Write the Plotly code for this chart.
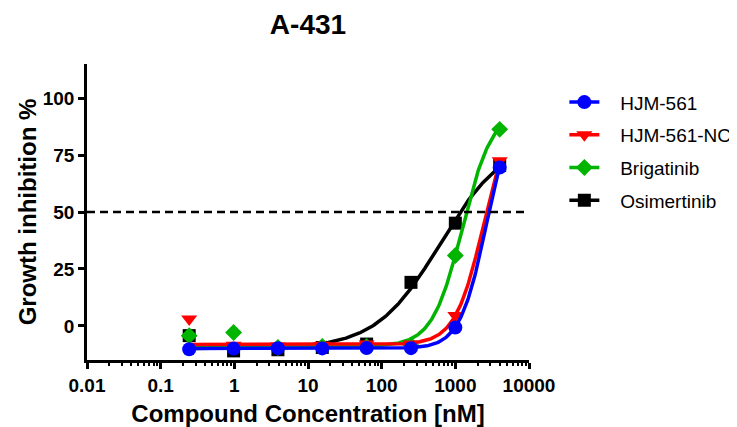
import numpy as np
import plotly.graph_objects as go

# ---- data ----
conc_nM = [0.244, 0.977, 3.906, 15.625, 62.5, 250, 1000, 4000]
series_names = ["HJM-561", "HJM-561-NC", "Brigatinib", "Osimertinib"]
hjm561 = [-10.3, -10.0, -9.8, -9.9, -9.7, -9.8, -0.7, 69.5]
hjm561_nc = [3.0, -8.5, -8.8, -8.5, -8.0, -8.0, 4.5, 72.5]
brigatinib = [-4.3, -2.9, -9.5, -9.0, -9.0, -8.5, 30.9, 86.3]
osimertinib = [-4.3, -11.0, -10.5, -9.5, -8.0, 19.1, 45.1, 70.5]

# 4-parameter logistic fit parameters (as drawn in the reference)
fit_bottom = [-10.0, -8.2, -9.0, -10.0]
fit_top = [100.0, 100.0, 95.0, 82.0]
fit_ec50 = [2660.0, 2470.0, 1247.0, 620.0]
fit_hill = [2.41, 2.23, 2.13, 1.0]

x_ticks = [0.01, 0.1, 1, 10, 100, 1000, 10000]
x_tick_text = ["0.01", "0.1", "1", "10", "100", "1000", "10000"]
y_ticks = [0, 25, 50, 75, 100]
threshold = 50

values = [hjm561, hjm561_nc, brigatinib, osimertinib]
colors = ["#0000FF", "#FF0000", "#00B400", "#000000"]
symbols = ["circle", "triangle-down", "diamond", "square"]
sizes = [14, 14, 13, 13]

FONT = "Arial, Liberation Sans, sans-serif"
PAD = "\u00a0\u00a0\u00a0"

fig = go.Figure()

xs = np.logspace(np.log10(min(conc_nM)), np.log10(max(conc_nM)), 300)

draw_order = [3, 2, 1, 0]
for i in draw_order:
    b, t, ec, h = fit_bottom[i], fit_top[i], fit_ec50[i], fit_hill[i]
    ys = b + (t - b) / (1 + (ec / xs) ** h)
    fig.add_trace(go.Scatter(x=xs, y=ys, mode="lines",
                             line=dict(color=colors[i], width=3.5),
                             showlegend=False, hoverinfo="skip"))
    fig.add_trace(go.Scatter(x=conc_nM, y=values[i], mode="markers",
                             marker=dict(color=colors[i], symbol=symbols[i], size=sizes[i]),
                             showlegend=False, name=series_names[i]))

for i in range(4):
    fig.add_trace(go.Scatter(x=[None], y=[None], mode="lines+markers",
                             name=PAD + series_names[i], legendgroup=series_names[i],
                             line=dict(color=colors[i], width=3.5),
                             marker=dict(color=colors[i], symbol=symbols[i], size=sizes[i])))

fig.add_shape(type="line", xref="paper", yref="y", x0=0, x1=1, y0=threshold, y1=threshold,
              line=dict(color="black", width=2.5, dash="8px,5px"))

# the page body adds an 8px offset, so the figure is 8px smaller and margins shifted
fig.update_layout(
    width=729, height=419,
    margin=dict(l=79, r=208, t=56, b=67, autoexpand=False),
    paper_bgcolor="white", plot_bgcolor="white",
    font=dict(family=FONT, color="black"),
    title=dict(text="A-431", x=0.5, xref="paper", y=0.962, yref="container",
               yanchor="middle", xanchor="center",
               font=dict(size=28, family=FONT, weight="bold", color="black")),
    legend=dict(x=1.08, xanchor="left", y=0.935, yanchor="top",
                font=dict(size=19, family=FONT, color="black"),
                itemwidth=30, tracegroupgap=5, bgcolor="rgba(0,0,0,0)"),
    xaxis=dict(type="log", range=[-2, 4], tickvals=x_ticks, ticktext=x_tick_text,
               automargin=False,
               showline=True, linecolor="black", linewidth=2.5, mirror=False,
               ticks="outside", ticklen=6, tickwidth=2.5, tickcolor="black",
               showgrid=False, zeroline=False,
               tickfont=dict(size=19, family=FONT, weight="bold", color="black"),
               minor=dict(ticks="outside", ticklen=3, tickwidth=1.5, tickcolor="black",
                          tickvals=[m * 10.0 ** k for k in range(-2, 4) for m in range(2, 10)],
                          showgrid=False),
               title=dict(text="Compound Concentration [nM]", standoff=11,
                          font=dict(size=24, family=FONT, weight="bold", color="black"))),
    yaxis=dict(range=[-15, 115], tickvals=y_ticks, automargin=False,
               showline=True, linecolor="black", linewidth=2.5,
               ticks="outside", ticklen=6, tickwidth=2.5, tickcolor="black",
               showgrid=False, zeroline=False,
               tickfont=dict(size=19, family=FONT, weight="bold", color="black"),
               title=dict(text="Growth inhibition %", standoff=0,
                          font=dict(size=24, family=FONT, weight="bold", color="black"))),
)

fig.write_html("out.html")
